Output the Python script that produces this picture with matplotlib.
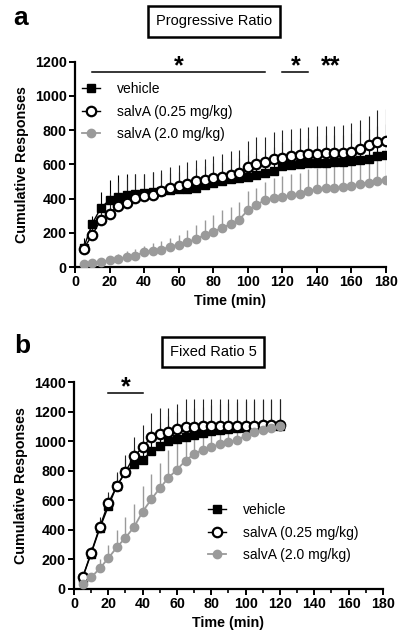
import matplotlib
matplotlib.use("Agg")
import matplotlib.pyplot as plt
from matplotlib.lines import Line2D
from matplotlib.ticker import MultipleLocator

plt.rcParams["font.family"] = ["Liberation Sans", "DejaVu Sans"]

GREY = "#9a9a9a"

# ---------------- panel a: progressive ratio ----------------
time_a = [5, 10, 15, 20, 25, 30, 35, 40, 45, 50, 55, 60, 65, 70, 75, 80, 85, 90,
          95, 100, 105, 110, 115, 120, 125, 130, 135, 140, 145, 150, 155, 160, 165, 170, 175, 180]

vehicle_a = [112, 254, 346, 392, 412, 423, 429, 433, 437, 442, 450, 455, 458, 462, 478, 490, 505, 512,
             520, 525, 538, 550, 562, 590, 595, 600, 605, 608, 610, 612, 614, 618, 625, 632, 648, 655]
vehicle_a_err = [55, 42, 94, 116, 126, 123, 117, 113, 118, 110, 100, 100, 110, 115, 110, 115, 110, 120,
                 120, 130, 130, 130, 140, 140, 150, 150, 150, 155, 160, 160, 160, 165, 170, 175, 175, 180]

salva_low_a = [106, 188, 277, 312, 358, 377, 402, 413, 419, 442, 462, 471, 488, 500, 506, 519, 527, 535,
               552, 587, 604, 613, 630, 638, 650, 657, 662, 662, 664, 667, 667, 673, 690, 712, 732, 738]
salva_low_a_err = [40, 70, 90, 120, 140, 150, 140, 130, 135, 127, 123, 124, 125, 125, 123, 129, 131, 142,
                   134, 148, 154, 149, 160, 160, 157, 158, 158, 161, 159, 158, 163, 167, 168, 168, 183, 186]

salva_high_a = [19, 25, 31, 38, 46, 60, 67, 87, 96, 102, 119, 131, 146, 163, 187, 206, 229, 250,
                277, 331, 363, 392, 404, 412, 419, 425, 446, 455, 459, 462, 469, 475, 488, 493, 503, 508]
salva_high_a_err = [11, 15, 19, 24, 32, 32, 38, 38, 44, 48, 49, 57, 69, 81, 86, 96, 102, 100,
                    102, 115, 99, 104, 115, 121, 123, 127, 125, 126, 126, 134, 135, 144, 160, 180, 178, 188]

# ---------------- panel b: fixed ratio 5 ----------------
time_b = [5, 10, 15, 20, 25, 30, 35, 40, 45, 50, 55, 60, 65, 70, 75, 80, 85, 90, 95, 100, 105, 110, 115, 120]

vehicle_b = [75, 240, 410, 560, 700, 790, 845, 875, 933, 971, 1000, 1016, 1029, 1045, 1056, 1067, 1076, 1083,
             1088, 1092, 1096, 1099, 1101, 1104]
vehicle_b_err = [10, 30, 60, 80, 80, 90, 110, 130, 150, 160, 170, 180, 180, 180, 180, 180, 180, 180,
                 180, 180, 180, 180, 180, 180]

salva_low_b = [79, 247, 420, 582, 699, 795, 898, 960, 1029, 1052, 1061, 1083, 1094, 1100, 1104, 1106, 1106, 1106,
               1106, 1106, 1106, 1108, 1108, 1110]
salva_low_b_err = [10, 40, 65, 77, 95, 112, 133, 150, 164, 171, 164, 167, 196, 190, 186, 184, 184, 184,
                   184, 184, 184, 182, 182, 180]

salva_high_b = [31, 79, 139, 209, 283, 348, 420, 524, 607, 683, 753, 809, 870, 915, 944, 964, 980, 993,
                1011, 1038, 1061, 1074, 1088, 1101]
salva_high_b_err = [9, 31, 61, 89, 116, 141, 155, 173, 171, 169, 187, 196, 190, 155, 146, 136, 130, 127,
                    114, 97, 79, 76, 67, 59]

labels = ["vehicle", "salvA (0.25 mg/kg)", "salvA (2.0 mg/kg)"]


def draw_panel(ax, t, veh, veh_err, low, low_err, high, high_err):
    zeros = [0] * len(t)
    ax.errorbar(t, high, yerr=[zeros, high_err], fmt="none", ecolor=GREY, elinewidth=1.0, capsize=0, zorder=1)
    ax.errorbar(t, veh, yerr=[zeros, veh_err], fmt="none", ecolor="black", elinewidth=0.8, capsize=0, zorder=1.5)
    ax.errorbar(t, low, yerr=[zeros, low_err], fmt="none", ecolor="#222222", elinewidth=0.8, capsize=0, zorder=1.6)
    ax.plot(t, veh, color="black", lw=1.0, marker="s", ms=6.2, mfc="black", mec="black", zorder=3)
    ax.plot(t, low, color="black", lw=1.0, marker="o", ms=6.8, mfc="white", mec="black", mew=1.6, zorder=4)
    ax.plot(t, high, color=GREY, lw=1.3, marker="o", ms=6, mfc=GREY, mec=GREY, zorder=5)

    for side in ("top", "right"):
        ax.spines[side].set_visible(False)
    for side in ("left", "bottom"):
        ax.spines[side].set_linewidth(1.6)
    ax.tick_params(which="major", direction="out", length=4, width=1.4, labelsize=10.3, pad=2)
    ax.tick_params(which="minor", direction="out", length=3, width=1.2)
    ax.set_xlim(0, 180)
    ax.xaxis.set_major_locator(MultipleLocator(20))
    ax.yaxis.set_major_locator(MultipleLocator(200))
    ax.set_xlabel("Time (min)", fontsize=10.3, fontweight="bold", labelpad=3)
    ax.set_ylabel("Cumulative Responses", fontsize=10.3, fontweight="bold", labelpad=4)


def legend_handles():
    return [
        Line2D([], [], color="black", lw=1.0, marker="s", ms=6.2, mfc="black", mec="black"),
        Line2D([], [], color="black", lw=1.0, marker="o", ms=6.8, mfc="white", mec="black", mew=1.6),
        Line2D([], [], color=GREY, lw=1.3, marker="o", ms=6, mfc=GREY, mec=GREY),
    ]


fig = plt.figure(figsize=(4.06, 6.41), dpi=100)

ax_a = fig.add_axes([75 / 406, 1 - 267 / 641, 311 / 406, 205.3 / 641])
draw_panel(ax_a, time_a, vehicle_a, vehicle_a_err, salva_low_a, salva_low_a_err, salva_high_a, salva_high_a_err)
ax_a.set_ylim(0, 1200)
for ax_lab in ax_a.get_xticklabels() + ax_a.get_yticklabels():
    ax_lab.set_fontweight("bold")
ax_a.legend(legend_handles(), labels, loc="upper left", bbox_to_anchor=(0.022, 0.9), frameon=False,
            fontsize=10, handlelength=1.3, handletextpad=1.2, labelspacing=0.6, borderaxespad=0, borderpad=0)

# significance marks, panel a
ax_a.plot([10, 110], [1140, 1140], color="black", lw=1.1, clip_on=False)
ax_a.plot([120, 135], [1140, 1140], color="black", lw=1.1, clip_on=False)
ax_a.text(60, 1130, "*", fontsize=18, fontweight="bold", ha="center", va="baseline", clip_on=False)
ax_a.text(127.5, 1130, "*", fontsize=18, fontweight="bold", ha="center", va="baseline", clip_on=False)
ax_a.text(148, 1130, "**", fontsize=18, fontweight="bold", ha="center", va="baseline", clip_on=False)

ax_b = fig.add_axes([74 / 406, 1 - 589 / 641, 309 / 406, 206.7 / 641])
draw_panel(ax_b, time_b, vehicle_b, vehicle_b_err, salva_low_b, salva_low_b_err, salva_high_b, salva_high_b_err)
ax_b.set_ylim(0, 1400)
ax_b.xaxis.set_minor_locator(MultipleLocator(10))
for ax_lab in ax_b.get_xticklabels() + ax_b.get_yticklabels():
    ax_lab.set_fontweight("bold")
ax_b.legend(legend_handles(), labels, loc="upper left", bbox_to_anchor=(0.434, 0.415), frameon=False,
            fontsize=10, handlelength=1.3, handletextpad=1.2, labelspacing=0.6, borderaxespad=0, borderpad=0)

ax_b.plot([20, 40], [1328, 1328], color="black", lw=1.1, clip_on=False)
ax_b.text(30, 1318, "*", fontsize=18, fontweight="bold", ha="center", va="baseline", clip_on=False)

# panel letters and boxed titles
fig.text(13 / 406, 1 - 25 / 641, "a", fontsize=19, fontweight="bold", va="baseline")
fig.text(14 / 406, 1 - 353 / 641, "b", fontsize=19, fontweight="bold", va="baseline")
box = dict(boxstyle="square,pad=0.55", fc="white", ec="black", lw=1.8)
fig.text(214 / 406, 1 - 21.5 / 641, "Progressive Ratio", fontsize=10.5, ha="center", va="center", bbox=box)
fig.text(213 / 406, 1 - 352 / 641, "Fixed Ratio 5", fontsize=10.5, ha="center", va="center", bbox=box)

fig.savefig("out.png", dpi=100)
